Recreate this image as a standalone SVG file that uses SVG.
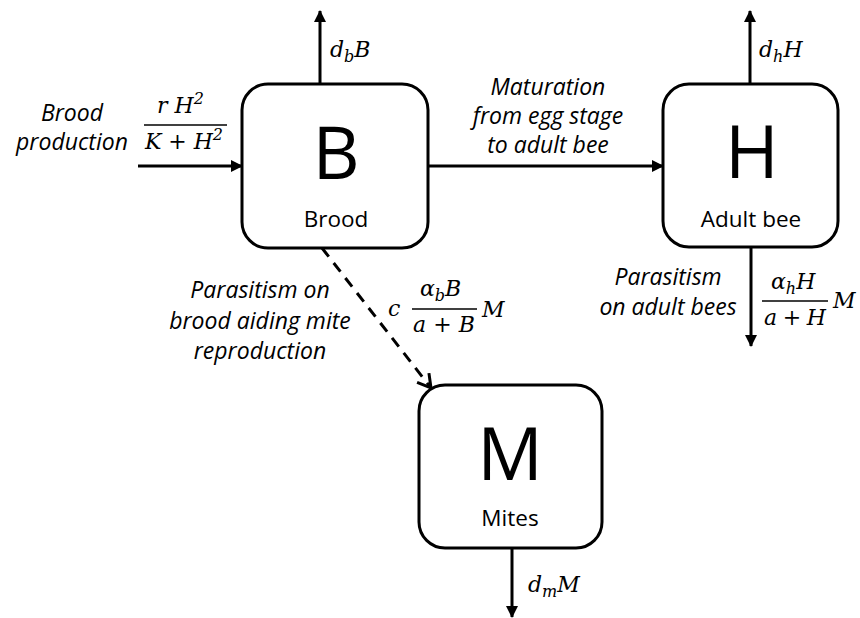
<svg xmlns="http://www.w3.org/2000/svg" width="860" height="618" viewBox="0 0 860 618">
<style>
.box{fill:#fff;stroke:#000;stroke-width:3}
.ln{stroke:#000;stroke-width:3;fill:none}
.dash{stroke:#000;stroke-width:3;fill:none;stroke-dasharray:11 8}
.big{font-family:"Open Sans","Liberation Sans",sans-serif;font-size:73px;text-anchor:middle;fill:#000}
.lab{font-family:"Open Sans","Liberation Sans",sans-serif;font-size:22.5px;text-anchor:middle;fill:#000}
.it{font-family:"Open Sans","Liberation Sans",sans-serif;font-size:23px;font-style:italic;text-anchor:middle;fill:#000}
.m{font-family:"DejaVu Serif","Liberation Serif",serif;font-size:22px;font-style:italic;fill:#000}
.sub{font-size:16px}
.frac{stroke:#000;stroke-width:1.4}
</style>
<defs>
<marker id="ah" markerWidth="14" markerHeight="14" refX="11" refY="7" orient="auto" markerUnits="userSpaceOnUse">
<path d="M0,1 L12,7 L0,13 Z" fill="#000"/>
</marker>
<marker id="open" markerWidth="18" markerHeight="18" refX="14" refY="9" orient="auto" markerUnits="userSpaceOnUse">
<path d="M1,1.5 L14,9 L1,16.5" fill="none" stroke="#000" stroke-width="3"/>
</marker>
</defs>
<g id="connectors">
<line class="ln" x1="320" y1="84" x2="320" y2="11" marker-end="url(#ah)"/>
<line class="ln" x1="138" y1="166" x2="242" y2="166" marker-end="url(#ah)"/>
<line class="ln" x1="428" y1="166" x2="663" y2="166" marker-end="url(#ah)"/>
<line class="ln" x1="750" y1="84" x2="750" y2="11" marker-end="url(#ah)"/>
<line class="ln" x1="751" y1="248" x2="751" y2="346" marker-end="url(#ah)"/>
<line class="dash" x1="322" y1="248" x2="431" y2="388" marker-end="url(#open)"/>
<line class="ln" x1="512" y1="548" x2="512" y2="617" marker-end="url(#ah)"/>
</g>
<g id="labels">
<text class="m" x="330" y="57">d<tspan class="sub" dy="5">b</tspan><tspan dy="-5">B</tspan></text>
<text class="m" x="759" y="57">d<tspan class="sub" dy="5">h</tspan><tspan dy="-5">H</tspan></text>
<text class="m" x="528" y="592">d<tspan class="sub" dy="5">m</tspan><tspan dy="-5">M</tspan></text>
<text class="it" x="72" y="121">Brood</text>
<text class="it" x="72" y="150">production</text>
<text class="m" x="157" y="113">r H<tspan class="sub" dy="-9">2</tspan></text>
<line class="frac" x1="144" y1="125" x2="227" y2="125"/>
<text class="m" x="145" y="149" textLength="78">K + H<tspan class="sub" dy="-9">2</tspan></text>
<text class="it" x="548" y="95">Maturation</text>
<text class="it" x="548" y="124">from egg stage</text>
<text class="it" x="548" y="153">to adult bee</text>
<text class="it" x="668" y="285">Parasitism</text>
<text class="it" x="668" y="315">on adult bees</text>
<text class="m" x="771" y="289">α<tspan class="sub" dy="5">h</tspan><tspan dy="-5">H</tspan></text>
<line class="frac" x1="762" y1="301" x2="828" y2="301"/>
<text class="m" x="764" y="325" textLength="62">a + H</text>
<text class="m" x="833" y="308">M</text>
<text class="it" x="260" y="298">Parasitism on</text>
<text class="it" x="260" y="329">brood aiding mite</text>
<text class="it" x="260" y="359">reproduction</text>
<text class="m" x="388" y="316">c</text>
<text class="m" x="420" y="296">α<tspan class="sub" dy="5">b</tspan><tspan dy="-5">B</tspan></text>
<line class="frac" x1="412" y1="309" x2="477" y2="309"/>
<text class="m" x="413" y="332" textLength="62">a + B</text>
<text class="m" x="482" y="317">M</text>
</g>
<g id="node-B">
<rect class="box" x="242" y="84" width="186" height="164" rx="26"/>
<text class="big" x="336" y="179">B</text>
<text class="lab" x="336" y="227">Brood</text>
</g>
<g id="node-H">
<rect class="box" x="663" y="84" width="175" height="163" rx="26"/>
<text class="big" x="752" y="178">H</text>
<text class="lab" x="751" y="227">Adult bee</text>
</g>
<g id="node-M">
<rect class="box" x="419" y="385" width="183" height="163" rx="26"/>
<text class="big" x="510" y="480">M</text>
<text class="lab" x="510" y="526">Mites</text>
</g>
</svg>
